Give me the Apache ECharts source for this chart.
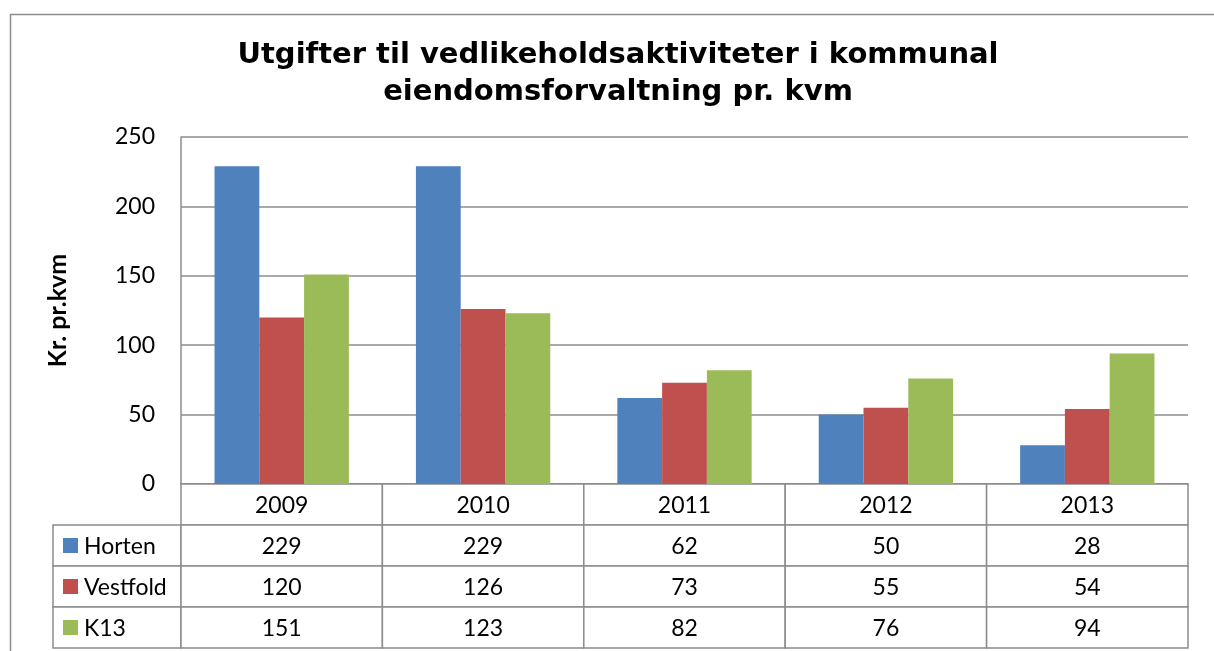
<!DOCTYPE html>
<html>
<head>
<meta charset="utf-8">
<script src="https://cdn.jsdelivr.net/npm/echarts@6/dist/echarts.min.js"></script>
<style>
  html, body { margin: 0; padding: 0; background: #fff; }
  #chart { width: 1214px; height: 651px; }
</style>
</head>
<body>
<div id="chart"></div>
<script>
// data
const years = ['2009', '2010', '2011', '2012', '2013'];
const seriesNames = ['Horten', 'Vestfold', 'K13'];
const horten = [229, 229, 62, 50, 28];
const vestfold = [120, 126, 73, 55, 54];
const k13 = [151, 123, 82, 76, 94];
const yTicks = [0, 50, 100, 150, 200, 250];

const colors = ['#4F81BD', '#C0504D', '#9BBB59'];
const values = [horten, vestfold, k13];
const lineGray = '#8c8c8c';
const bodyFont = 'Lato';
const tableLeft = 53;

// table cells: [col, row, kind]  kind 0 = value cell, 1 = legend cell
const cells = [];
years.forEach((y, c) => cells.push([c, 0, 0]));
seriesNames.forEach((n, i) => {
  cells.push([0, i + 1, 1]);
  years.forEach((y, c) => cells.push([c, i + 1, 0]));
});

const chart = echarts.init(document.getElementById('chart'), null, { renderer: 'canvas' });

function renderCell(params, api) {
  const c = api.value(0), r = api.value(1), kind = api.value(2);
  const center = api.coord([c, r]);
  const size = api.size([1, 1]);
  const x0 = center[0] - size[0] / 2;
  const y0 = center[1] - size[1] / 2;
  const stroke = { stroke: lineGray, lineWidth: 1.5, fill: '#fff' };
  if (kind === 1) {
    const w = x0 - tableLeft;
    const name = seriesNames[r - 1];
    return {
      type: 'group',
      children: [
        { type: 'rect', shape: { x: tableLeft, y: y0, width: w, height: size[1] }, style: stroke },
        { type: 'rect', shape: { x: tableLeft + 10, y: center[1] - 7.5, width: 15, height: 15 },
          style: { fill: colors[r - 1] } },
        { type: 'text', x: tableLeft + 31, y: center[1] + 1,
          style: { text: name, fontSize: 23, fontFamily: bodyFont, fill: '#000',
                   align: 'left', verticalAlign: 'middle' } }
      ]
    };
  }
  const text = r === 0 ? years[c] : String(values[r - 1][c]);
  return {
    type: 'group',
    children: [
      { type: 'rect', shape: { x: x0, y: y0, width: size[0], height: size[1] }, style: stroke },
      { type: 'text', x: center[0], y: center[1] + 1,
        style: { text: text, fontSize: 23, fontFamily: bodyFont, fill: '#000',
                 align: 'center', verticalAlign: 'middle' } }
    ]
  };
}

const option = {
  animation: false,
  backgroundColor: '#fff',
  title: {
    text: 'Utgifter til vedlikeholdsaktiviteter i kommunal\neiendomsforvaltning pr. kvm',
    left: 613,
    top: 32,
    textAlign: 'center',
    textStyle: {
      fontFamily: 'DejaVu Sans',
      fontWeight: 'bold',
      fontSize: 29,
      lineHeight: 37,
      color: '#000',
      align: 'center'
    }
  },
  graphic: [
    { type: 'rect', left: 8, top: 12, shape: { width: 1240, height: 700 },
      style: { fill: 'none', stroke: lineGray, lineWidth: 1.5 }, z: -1 }
  ],
  grid: [
    { left: 181, right: 26, top: 137, bottom: 167 },
    { left: 181, right: 26, top: 484, height: 164 }
  ],
  xAxis: [
    {
      type: 'category', gridIndex: 0, data: years,
      axisLine: { show: true, lineStyle: { color: lineGray, width: 1.5 } },
      axisTick: { show: false }, axisLabel: { show: false }
    },
    {
      type: 'category', gridIndex: 1, data: years,
      axisLine: { show: false }, axisTick: { show: false }, axisLabel: { show: false }
    }
  ],
  yAxis: [
    {
      type: 'value', gridIndex: 0, min: 0, max: 250, interval: 50,
      name: 'Kr. pr.kvm', nameLocation: 'middle', nameRotate: 90, nameGap: 111,
      nameTextStyle: { fontFamily: bodyFont, fontWeight: 'bold', fontSize: 25, color: '#000' },
      axisLine: { show: true, lineStyle: { color: lineGray, width: 1.5 } },
      axisTick: { show: false },
      axisLabel: {
        margin: 26, fontFamily: bodyFont, fontSize: 23, color: '#000',
        formatter: v => yTicks.includes(v) ? String(v) : ''
      },
      splitLine: { show: true, lineStyle: { color: lineGray, width: 1.5 } }
    },
    {
      type: 'category', gridIndex: 1, inverse: true,
      data: ['', ...seriesNames],
      axisLine: { show: false }, axisTick: { show: false }, axisLabel: { show: false }
    }
  ],
  series: [
    ...seriesNames.map((n, i) => ({
      name: n, type: 'bar', xAxisIndex: 0, yAxisIndex: 0,
      data: values[i],
      barGap: '0%', barCategoryGap: '33.3%',
      itemStyle: { color: colors[i] }
    })),
    {
      type: 'custom', xAxisIndex: 1, yAxisIndex: 1,
      renderItem: renderCell,
      data: cells,
      silent: true
    }
  ]
};

chart.setOption(option);
</script>
</body>
</html>
